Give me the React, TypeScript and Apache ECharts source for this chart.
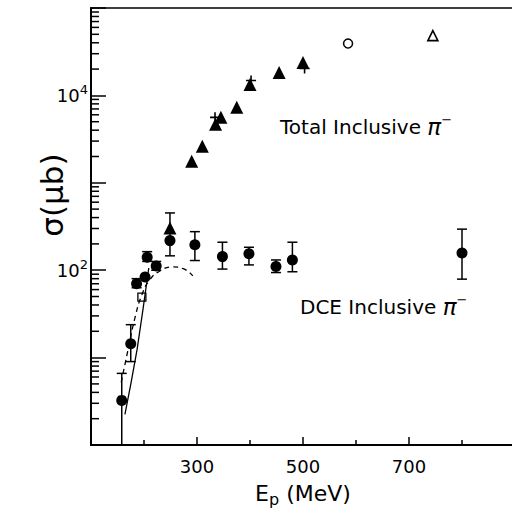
import React, { useEffect, useRef } from "react";
import * as echarts from "echarts";

const X_MIN = 100;
const X_MAX = 900;
const Y_MIN = 1;
const Y_MAX = 100000;

const xTickLabels = [300, 500, 700];
const xMinorTicks = [200, 400, 600, 800];
const yLabelValues = [100, 10000];
const yMinorMultipliers = [2, 3, 4, 5, 6, 7, 8, 9];
const yDecades = [1, 10, 100, 1000, 10000];

// Total inclusive pi- (filled triangles)
const totalTriE = [290, 310, 335, 345, 375, 400, 455, 500];
const totalTriS = [1770, 2620, 4670, 5610, 7300, 13300, 18300, 23800];
// Total inclusive (plus markers)
const totalPlusE = [334, 402, 503];
const totalPlusS = [5610, 14800, 20300];
// open circle / open triangle
const openCircleE = [585];
const openCircleS = [39200];
const openTriE = [745];
const openTriS = [48300];

// DCE inclusive pi- (filled circles with error bars)
const dceE = [158, 175, 186, 202, 206, 223, 249, 296, 348, 398, 449, 480, 800];
const dceS = [3.24, 14.4, 70, 83.4, 141, 112, 218, 195, 143, 154, 110, 131, 157];
const dceLo = [1, 9, 63, null, 126, 100, 146, 129, 103, 115, 94, 96, 79];
const dceHi = [6.6, 23.8, 80, null, 163, 126, 452, 276, 209, 183, 131, 209, 295];
// DCE filled triangle and open square
const dceTriE = [249];
const dceTriS = [304];
const dceSqE = [196];
const dceSqS = [49.3];

// theory curves
const solidE = [164, 175, 187, 198, 209];
const solidS = [2.24, 4.93, 12.4, 35.3, 106];
const dashedE = [157, 170, 183, 196, 211, 230, 253, 274, 292];
const dashedS = [5.2, 12.4, 28.6, 52.5, 77.8, 98, 109, 104, 86];

const zip = (a: number[], b: number[]) => a.map((v, i) => [v, b[i]]);

const FONT = "DejaVu Sans";

export default function App() {
  const ref = useRef<HTMLDivElement>(null);

  useEffect(() => {
    document.body.style.margin = "0";
    const chart = echarts.init(ref.current!, undefined, { renderer: "svg" });

    const xTickData = [
      ...xTickLabels.map((v) => [v, 8]),
      ...xMinorTicks.map((v) => [v, 5]),
    ];
    const yMinorData: number[][] = [];
    yDecades.forEach((d) =>
      yMinorMultipliers.forEach((m) => yMinorData.push([X_MIN, d * m]))
    );
    const errData: number[][] = [];
    dceE.forEach((e, i) => {
      if (dceLo[i] != null && dceHi[i] != null) {
        errData.push([e, dceLo[i] as number, dceHi[i] as number]);
      }
    });

    const labelRich = {
      t: { fontSize: 20, fontFamily: FONT, fill: "#000" },
      p: { fontSize: 23, fontFamily: FONT, fontStyle: "italic", fill: "#000" },
      s: { fontSize: 13, fontFamily: FONT, fill: "#000", padding: [0, 0, 15, 0] },
    };

    const option: any = {
      animation: false,
      backgroundColor: "#fff",
      grid: {
        left: 91,
        top: 8,
        width: 424,
        height: 437,
        show: true,
        borderColor: "#000",
        borderWidth: 1.5,
        backgroundColor: "transparent",
        outerBoundsMode: "none",
      },
      xAxis: {
        type: "value",
        min: X_MIN,
        max: X_MAX,
        interval: 100,
        axisLine: { show: true, lineStyle: { color: "#000", width: 2 } },
        axisTick: { show: false },
        splitLine: { show: false },
        axisLabel: {
          margin: 12,
          color: "#000",
          fontSize: 18,
          fontFamily: FONT,
          formatter: (v: number) => (xTickLabels.includes(v) ? String(v) : ""),
        },
        name: "{e|E}{p|p}{e| (MeV)}",
        nameLocation: "middle",
        nameGap: 34,
        nameTextStyle: {
          rich: {
            e: { fontSize: 22, fontFamily: FONT, color: "#000" },
            p: { fontSize: 16, fontFamily: FONT, color: "#000", padding: [12, 0, 0, 0] },
          },
        },
      },
      yAxis: {
        type: "log",
        logBase: 10,
        min: Y_MIN,
        max: Y_MAX,
        axisLine: { show: true, lineStyle: { color: "#000", width: 2 } },
        axisTick: { show: true, inside: true, length: 15, lineStyle: { color: "#000", width: 1.5 } },
        minorTick: { show: false },
        splitLine: { show: false },
        axisLabel: {
          margin: 3,
          color: "#000",
          formatter: (v: number) => {
            if (!yLabelValues.includes(Math.round(v))) return "";
            const exp = Math.round(Math.log10(v));
            return "{b|10}{s|" + exp + "}";
          },
          rich: {
            b: { fontSize: 18, fontFamily: FONT, color: "#000" },
            s: { fontSize: 13, fontFamily: FONT, color: "#000", padding: [0, 0, 12, 0] },
          },
        },
      },
      graphic: [
        {
          type: "text",
          x: 52,
          y: 195,
          rotation: Math.PI / 2,
          style: {
            text: "σ(μb)",
            font: "31px " + FONT,
            fill: "#000",
            textAlign: "center",
            textVerticalAlign: "middle",
          },
        },
        {
          type: "text",
          x: 280,
          y: 127,
          style: {
            text: "{t|Total Inclusive }{p|π}{s|−}",
            textVerticalAlign: "middle",
            rich: labelRich,
          },
        },
        {
          type: "text",
          x: 300,
          y: 307,
          style: {
            text: "{t|DCE Inclusive }{p|π}{s|−}",
            textVerticalAlign: "middle",
            rich: labelRich,
          },
        },
      ],
      series: [
        {
          type: "custom",
          silent: true,
          data: xTickData,
          renderItem: (_p: any, api: any) => {
            const pt = api.coord([api.value(0), Y_MIN]);
            const len = api.value(1);
            return {
              type: "line",
              shape: { x1: pt[0], y1: pt[1], x2: pt[0], y2: pt[1] - len },
              style: { stroke: "#000", lineWidth: 1.5 },
            };
          },
        },
        {
          type: "custom",
          silent: true,
          data: yMinorData,
          renderItem: (_p: any, api: any) => {
            const pt = api.coord([api.value(0), api.value(1)]);
            return {
              type: "line",
              shape: { x1: pt[0], y1: pt[1], x2: pt[0] + 8, y2: pt[1] },
              style: { stroke: "#000", lineWidth: 1.5 },
            };
          },
        },
        {
          type: "line",
          silent: true,
          data: zip(solidE, solidS),
          showSymbol: false,
          symbol: "none",
          smooth: false,
          lineStyle: { color: "#000", width: 1.3 },
        },
        {
          type: "line",
          silent: true,
          data: zip(dashedE, dashedS),
          showSymbol: false,
          symbol: "none",
          smooth: true,
          lineStyle: { color: "#000", width: 1.3, type: [5, 4] },
        },
        {
          type: "custom",
          silent: true,
          data: errData,
          renderItem: (_p: any, api: any) => {
            const x = api.value(0);
            const lo = api.value(1);
            const hi = api.value(2);
            const a = api.coord([x, lo]);
            const b = api.coord([x, hi]);
            const w = 5;
            const children: any[] = [
              { type: "line", shape: { x1: a[0], y1: a[1], x2: b[0], y2: b[1] }, style: { stroke: "#000", lineWidth: 1.5 } },
              { type: "line", shape: { x1: b[0] - w, y1: b[1], x2: b[0] + w, y2: b[1] }, style: { stroke: "#000", lineWidth: 1.5 } },
            ];
            if (lo > Y_MIN) {
              children.push({ type: "line", shape: { x1: a[0] - w, y1: a[1], x2: a[0] + w, y2: a[1] }, style: { stroke: "#000", lineWidth: 1.5 } });
            }
            return { type: "group", children };
          },
        },
        {
          type: "scatter",
          silent: true,
          data: zip(dceE, dceS),
          symbol: "circle",
          symbolSize: 11,
          itemStyle: { color: "#000", opacity: 1 },
        },
        {
          type: "scatter",
          silent: true,
          data: zip(dceTriE, dceTriS),
          symbol: "triangle",
          symbolSize: 13,
          itemStyle: { color: "#000", opacity: 1 },
        },
        {
          type: "scatter",
          silent: true,
          data: zip(dceSqE, dceSqS),
          symbol: "rect",
          symbolSize: 8,
          itemStyle: { color: "#fff", borderColor: "#000", borderWidth: 1.3, opacity: 1 },
        },
        {
          type: "scatter",
          silent: true,
          data: zip(totalTriE, totalTriS),
          symbol: "triangle",
          symbolSize: 13,
          itemStyle: { color: "#000", opacity: 1 },
        },
        {
          type: "scatter",
          silent: true,
          data: zip(totalPlusE, totalPlusS),
          symbol: "path://M0,5 L10,5 M5,0 L5,10",
          symbolSize: 10,
          itemStyle: { color: "none", borderColor: "#000", borderWidth: 1.6, opacity: 1 },
        },
        {
          type: "scatter",
          silent: true,
          data: zip(openCircleE, openCircleS),
          symbol: "circle",
          symbolSize: 9,
          itemStyle: { color: "#fff", borderColor: "#000", borderWidth: 1.5, opacity: 1 },
        },
        {
          type: "scatter",
          silent: true,
          data: zip(openTriE, openTriS),
          symbol: "triangle",
          symbolSize: 10,
          itemStyle: { color: "#fff", borderColor: "#000", borderWidth: 1.6, opacity: 1 },
        },
      ],
    };

    chart.setOption(option);
    return () => chart.dispose();
  }, []);

  return <div ref={ref} style={{ width: 512, height: 514 }} />;
}
